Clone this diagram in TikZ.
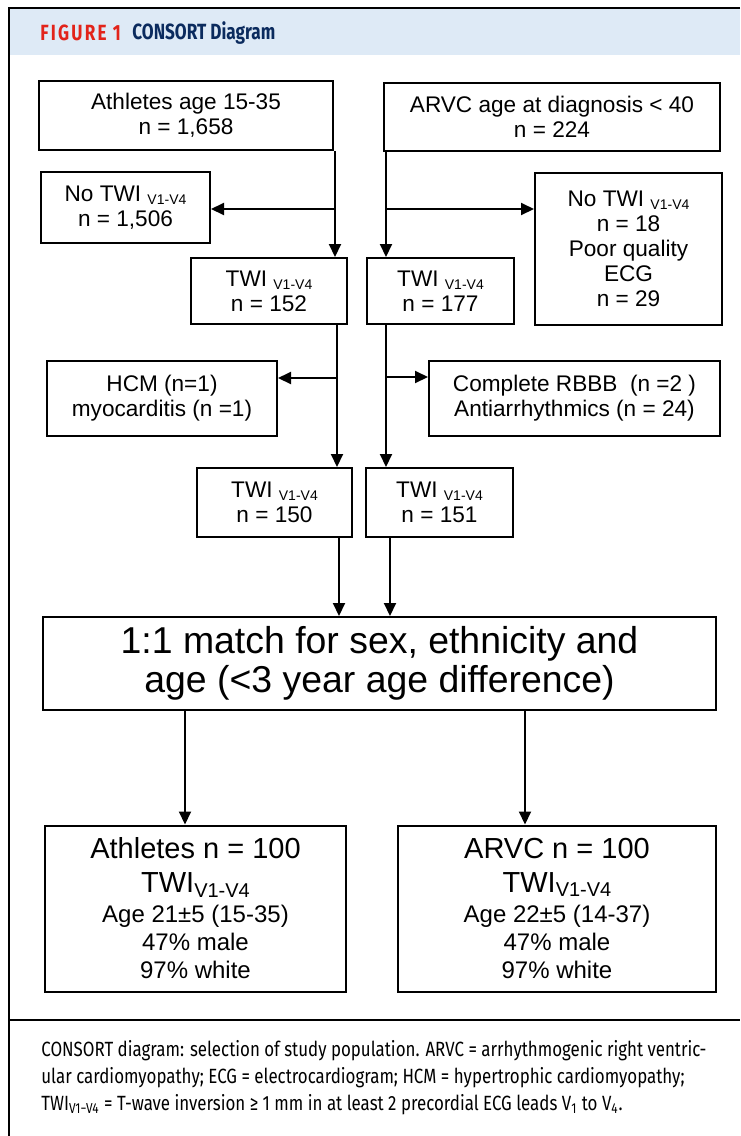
\documentclass[tikz,border=0pt]{standalone}
\usepackage{fontspec}
\setmainfont{Liberation Sans}
\newfontfamily\capfont[FakeStretch=0.82]{Fira Sans}
\newfontfamily\headfont[FakeStretch=0.78]{Fira Sans}
\usetikzlibrary{arrows.meta}
\definecolor{band}{HTML}{DEEAF6}
\definecolor{figred}{HTML}{E2231A}
\definecolor{navy}{HTML}{0B2B5E}
\newcommand\lead{\raisebox{-1.6pt}{\fontsize{7}{7}\selectfont V1-V4}}
\newcommand\biglead{\raisebox{-2.2pt}{\fontsize{10}{10}\selectfont V1-V4}}
\begin{document}
\begin{tikzpicture}[x=0.5pt,y=-0.5pt,
  box/.style={draw,line width=1pt,align=center,inner sep=0pt,
    font=\fontsize{11.3}{12.5}\selectfont},
  bigbox/.style={box,font=\fontsize{12}{14}\selectfont},
  arr/.style={line width=1pt,-{Triangle[length=6.5pt,width=6pt]}}]
\useasboundingbox (0,0) rectangle (740,1136);
\fill[band] (10,9) rectangle (740,55);
\draw[line width=1pt] (740,8) -- (9,8) -- (9,1136);
\draw[line width=1pt] (9,1020) -- (740,1020);
\node[anchor=west,inner sep=0pt,text=figred,
  font=\headfont\bfseries\fontsize{11}{13}\selectfont\addfontfeature{LetterSpace=10}]
  (figlab) at (40,33) {FIGURE 1};
\node[anchor=west,inner sep=0pt,text=navy,font=\headfont\bfseries\fontsize{11}{13}\selectfont]
  (title) at (132,33) {CONSORT Diagram};
\node[box,minimum width=147pt,minimum height=34.5pt] (ath) at (186,115.5) {Athletes age 15-35\\n = 1,658};
\node[box,minimum width=168pt,minimum height=34pt] (arvc) at (552,117) {ARVC age at diagnosis < 40\\n = 224};
\node[box,minimum width=84.5pt,minimum height=35.5pt] (notwiA) at (125.5,207.5) {No TWI \lead\\n = 1,506};
\node[box,minimum width=93.5pt,minimum height=76pt] (notwiB) at (628.5,249) {No TWI \lead\\n = 18\\Poor quality\\ECG\\n = 29};
\node[box,minimum width=78pt,minimum height=33pt] (twiA1) at (269,291) {TWI \lead\\n = 152};
\node[box,minimum width=73.5pt,minimum height=33pt] (twiB1) at (440.5,291) {TWI \lead\\n = 177};
\node[box,minimum width=115pt,minimum height=37.5pt] (hcm) at (162,398.5) {HCM (n=1)\\myocarditis (n =1)};
\node[box,minimum width=145.5pt,minimum height=37.5pt] (rbbb) at (574.5,398.5) {Complete RBBB\ \ (n =2 )\\Antiarrhythmics (n = 24)};
\node[box,minimum width=77.5pt,minimum height=34.5pt] (twiA2) at (274.5,502.5) {TWI \lead\\n = 150};
\node[box,minimum width=73.5pt,minimum height=34.5pt] (twiB2) at (439.5,502.5) {TWI \lead\\n = 151};
\node[box,minimum width=336.5pt,minimum height=46.5pt,font=\fontsize{18.7}{19.5}\selectfont] (match) at (379.5,663.5)
  {1:1 match for sex, ethnicity and\\age (<3 year age difference)};
\node[bigbox,minimum width=150.5pt,minimum height=83pt] (athN) at (195.5,908.5)
  {{\fontsize{14.5}{17}\selectfont Athletes n = 100}\\[3pt]
   {\fontsize{14.5}{17}\selectfont TWI}\biglead\\[1pt]
   Age 21±5 (15-35)\\47\% male\\97\% white};
\node[bigbox,minimum width=159pt,minimum height=83pt] (arvcN) at (557,908.5)
  {{\fontsize{14.5}{17}\selectfont ARVC n = 100}\\[3pt]
   {\fontsize{14.5}{17}\selectfont TWI}\biglead\\[1pt]
   Age 22±5 (14-37)\\47\% male\\97\% white};
\coordinate (jA) at (335,209);
\coordinate (jB) at (386,209);
\coordinate (kA) at (337,378);
\coordinate (kB) at (386,377);
\coordinate (mA) at (339,577);
\coordinate (mB) at (390,577);
\coordinate (nA) at (185,767);
\coordinate (nB) at (525,767);
\draw[arr] (ath.south -| jA) -- (twiA1.north -| jA);
\draw[arr] (jA) -- (jA -| notwiA.east);
\draw[arr] (arvc.south -| jB) -- (twiB1.north -| jB);
\draw[arr] (jB) -- (jB -| notwiB.west);
\draw[arr] (twiA1.south -| kA) -- (twiA2.north -| kA);
\draw[arr] (kA) -- (kA -| hcm.east);
\draw[arr] (twiB1.south -| kB) -- (twiB2.north -| kB);
\draw[arr] (kB) -- (kB -| rbbb.west);
\draw[arr] (twiA2.south -| mA) -- (match.north -| mA);
\draw[arr] (twiB2.south -| mB) -- (match.north -| mB);
\draw[arr] (match.south -| nA) -- (athN.north -| nA);
\draw[arr] (match.south -| nB) -- (arvcN.north -| nB);
\node[anchor=west,inner sep=0pt,align=left,font=\capfont\fontsize{10.3}{13.5}\selectfont] (cap) at (41,1078)
  {CONSORT diagram: selection of study population. ARVC = arrhythmogenic right ventric-\\
   ular cardiomyopathy; ECG = electrocardiogram; HCM = hypertrophic cardiomyopathy;\\
   TWI\textsubscript{V1−V4} = T-wave inversion ≥ 1 mm in at least 2 precordial ECG leads V\textsubscript{1} to V\textsubscript{4}.};
\end{tikzpicture}
\end{document}
